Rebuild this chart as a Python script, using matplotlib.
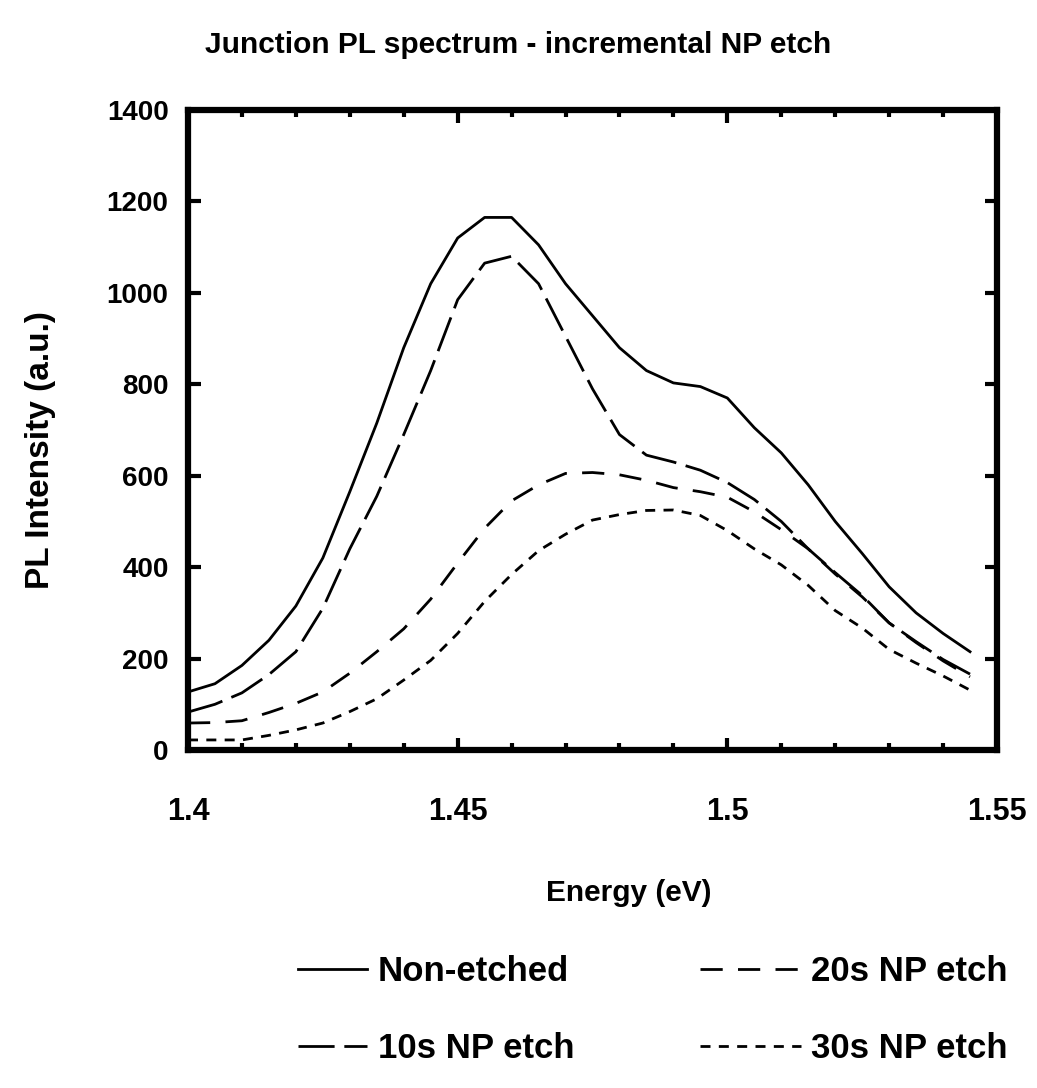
import matplotlib
matplotlib.use('Agg')
import matplotlib.pyplot as plt
from matplotlib.ticker import MultipleLocator

# Данные
energy = [1.400, 1.405, 1.410, 1.415, 1.420, 1.425, 1.430, 1.435, 1.440, 1.445,
          1.450, 1.455, 1.460, 1.465, 1.470, 1.475, 1.480, 1.485, 1.490, 1.495,
          1.500, 1.505, 1.510, 1.515, 1.520, 1.525, 1.530, 1.535, 1.540, 1.545]

non_etched = [127, 145, 185, 240, 315, 420, 565, 715, 880, 1020,
              1120, 1165, 1165, 1105, 1020, 950, 880, 830, 803, 795,
              770, 705, 650, 580, 500, 430, 357, 300, 255, 215]

etch_10s = [83, 100, 125, 165, 215, 310, 440, 555, 690, 830,
            985, 1065, 1080, 1020, 905, 790, 690, 645, 630, 612,
            585, 548, 500, 440, 388, 338, 278, 237, 198, 166]

etch_20s = [59, 60, 64, 82, 102, 127, 168, 215, 265, 330,
            409, 485, 545, 580, 605, 607, 602, 590, 574, 565,
            553, 521, 482, 440, 385, 335, 278, 235, 195, 160]

etch_30s = [22, 22, 22, 32, 44, 59, 84, 112, 153, 196,
            255, 325, 384, 436, 472, 503, 515, 524, 525, 513,
            480, 440, 405, 360, 305, 267, 220, 190, 162, 131]

x_ticks = [1.4, 1.45, 1.5, 1.55]
x_tick_labels = ['1.4', '1.45', '1.5', '1.55']
y_ticks = [0, 200, 400, 600, 800, 1000, 1200, 1400]

plt.rcParams['font.family'] = ['Liberation Sans', 'DejaVu Sans']
plt.rcParams['font.weight'] = 'bold'

W, H = 1037, 1088
fig = plt.figure(figsize=(W / 100, H / 100), dpi=100)
ax = fig.add_axes([188 / W, 1 - 750 / H, (997 - 188) / W, (750 - 110) / H])

lw = 2.0
l1, = ax.plot(energy, non_etched, color='black', lw=lw, label='Non-etched')
l2, = ax.plot(energy, etch_10s, color='black', lw=lw, linestyle=(0, (13, 3.5)), label='10s NP etch')
l3, = ax.plot(energy, etch_20s, color='black', lw=lw, linestyle=(0, (8, 5.5)), label='20s NP etch')
l4, = ax.plot(energy, etch_30s, color='black', lw=lw, linestyle=(0, (3.6, 3)), label='30s NP etch')

ax.set_xlim(1.4, 1.55)
ax.set_ylim(0, 1400)
ax.set_xticks(x_ticks)
ax.set_xticklabels(x_tick_labels)
ax.set_yticks(y_ticks)
ax.xaxis.set_minor_locator(MultipleLocator(0.01))

for s in ax.spines.values():
    s.set_linewidth(4.5)

ax.tick_params(which='both', direction='in', top=True, right=True, width=3)
ax.tick_params(which='major', length=9)
ax.tick_params(which='minor', length=5)
ax.tick_params(axis='x', which='major', pad=34, labelsize=22)
ax.tick_params(axis='y', which='major', pad=14, labelsize=20)
for t in ax.get_xticklabels() + ax.get_yticklabels():
    t.set_fontweight('bold')

# Заголовок и подписи осей
fig.text(0.5, 1 - 45 / H, 'Junction PL spectrum - incremental NP etch',
         ha='center', va='center', fontsize=21.5, fontweight='bold')
fig.text(629 / W, 1 - 893 / H, 'Energy (eV)', ha='center', va='center',
         fontsize=21.5, fontweight='bold')
fig.text(41 / W, 1 - 450 / H, 'PL Intensity (a.u.)', ha='center', va='center',
         rotation=90, fontsize=24, fontweight='bold')

# Легенда в два столбца
leg_kw = dict(frameon=False, fontsize=25, borderpad=0, borderaxespad=0,
              labelspacing=1.25, handletextpad=0.3, loc='center left')
leg1 = fig.legend([l1, l2], ['Non-etched', '10s NP etch'], handlelength=2.0,
                  bbox_to_anchor=(298 / W, 1 - 1010 / H), **leg_kw)
leg2 = fig.legend([l3, l4], ['20s NP etch', '30s NP etch'], handlelength=2.9,
                  bbox_to_anchor=(700 / W, 1 - 1010 / H), **leg_kw)
for leg in (leg1, leg2):
    for t in leg.get_texts():
        t.set_fontweight('bold')

plt.savefig('out.png', dpi=100)
